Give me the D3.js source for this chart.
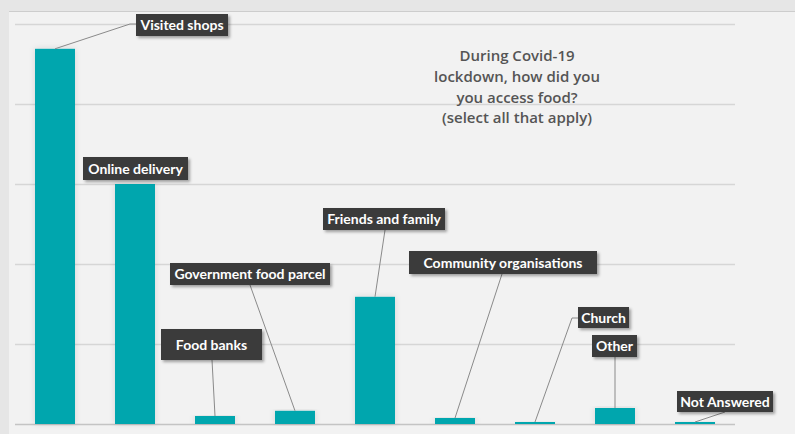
<!DOCTYPE html>
<html>
<head>
<meta charset="utf-8">
<script src="https://cdn.jsdelivr.net/npm/d3@7"></script>
<style>
  html, body { margin: 0; padding: 0; background: #e6e6e6; }
  svg { display: block; }
</style>
</head>
<body>
<svg id="chart" width="795" height="434"></svg>
<script>
// Survey responses (% of respondents, multiple answers allowed)
const categories = ["Visited shops", "Online delivery", "Food banks", "Government food parcel",
  "Friends and family", "Community organisations", "Church", "Other", "Not Answered"];
const values = [93.8, 60, 2, 3.3, 31.8, 1.5, 0.5, 4, 0.5];
const gridTicks = [0, 20, 40, 60, 80, 100];
const titleLines = ["During Covid-19", "lockdown, how did you", "you access food?", "(select all that apply)"];

// Callout boxes: left, top, and where the leader line leaves the box
const callouts = [
  { x: 136, y: 14, w: 92, h: 22, ax: 136, ay: 24, elbow: [130, 24] },
  { x: 83, y: 157, w: 105, h: 23, ax: null },
  { x: 161, y: 329, w: 101, h: 31, ax: 212, ay: 360 },
  { x: 170, y: 263, w: 160, h: 22, ax: 250, ay: 285 },
  { x: 323, y: 208, w: 122, h: 22, ax: 385, ay: 230 },
  { x: 409, y: 251, w: 188, h: 23, ax: 502, ay: 274 },
  { x: 578, y: 307, w: 51, h: 21, ax: 578, ay: 318, elbow: [572, 318] },
  { x: 592, y: 335, w: 45, h: 22, ax: 615, ay: 357 },
  { x: 677, y: 391, w: 96, h: 21, ax: 725, ay: 412 }
];

const svg = d3.select("#chart");
const W = 795, H = 434;

const defs = svg.append("defs");
const sh = defs.append("filter").attr("id", "boxShadow")
  .attr("x", "-20%").attr("y", "-30%").attr("width", "150%").attr("height", "170%");
sh.append("feDropShadow").attr("dx", 2).attr("dy", 2).attr("stdDeviation", 1.5)
  .attr("flood-color", "#000").attr("flood-opacity", 0.35);
const bs = defs.append("filter").attr("id", "barShadow")
  .attr("x", "-40%").attr("y", "-10%").attr("width", "180%").attr("height", "120%");
bs.append("feDropShadow").attr("dx", 0).attr("dy", 0).attr("stdDeviation", 3)
  .attr("flood-color", "#000").attr("flood-opacity", 0.12);

// Frame and panel
svg.append("rect").attr("width", W).attr("height", H).attr("fill", "#e6e6e6");
svg.append("rect").attr("x", 9).attr("y", 12).attr("width", W - 9).attr("height", H - 12).attr("fill", "#f2f2f2");
svg.append("line").attr("x1", 9).attr("x2", W).attr("y1", 11.5).attr("y2", 11.5)
  .attr("stroke", "#cdcdcd").attr("stroke-width", 1);

const x = d3.scaleBand().domain(categories).range([15, 735]).paddingInner(0.5).paddingOuter(0.25);
const y = d3.scaleLinear().domain([0, 100]).range([424, 24]);

// Horizontal gridlines
const yAxis = d3.axisLeft(y).tickValues(gridTicks).tickSize(-720).tickFormat("");
const gAxis = svg.append("g").attr("transform", "translate(15,0)").call(yAxis);
gAxis.select(".domain").remove();
gAxis.selectAll(".tick line")
  .attr("x1", 0).attr("x2", 720)
  .attr("stroke", d => d === 0 ? "#c4c4c4" : "#d6d6d6")
  .attr("stroke-width", 1.5);

// Bars
svg.append("g").selectAll("rect").data(categories).join("rect")
  .attr("x", d => x(d))
  .attr("width", x.bandwidth())
  .attr("y", (d, i) => y(values[i]))
  .attr("height", (d, i) => y(0) - y(values[i]))
  .attr("fill", "#00A6AE")
  .attr("filter", "url(#barShadow)");

// Title
const title = svg.append("text").attr("x", 517).attr("y", 61)
  .attr("text-anchor", "middle")
  .attr("font-family", "'Open Sans', Lato, sans-serif")
  .attr("font-weight", 600).attr("font-size", 15).attr("fill", "#555555");
titleLines.forEach((t, i) => title.append("tspan").attr("x", 517).attr("dy", i === 0 ? 0 : 20.8).text(t));

// Leader lines from each bar top to its callout
const leaders = svg.append("g").attr("fill", "none").attr("stroke", "#8a8a8a").attr("stroke-width", 1);
categories.forEach((c, i) => {
  const cb = callouts[i];
  if (cb.ax === null) return;
  const px = x(c) + x.bandwidth() / 2;
  const py = y(values[i]);
  const pts = [[px, py]];
  if (cb.elbow) pts.push(cb.elbow);
  pts.push([cb.ax, cb.ay]);
  leaders.append("path").attr("d", d3.line()(pts));
});

// Callout boxes with labels
const cg = svg.append("g").selectAll("g").data(categories).join("g")
  .attr("transform", (d, i) => `translate(${callouts[i].x},${callouts[i].y})`);
cg.append("rect")
  .attr("width", (d, i) => callouts[i].w)
  .attr("height", (d, i) => callouts[i].h)
  .attr("fill", "#3a3a3a")
  .attr("filter", "url(#boxShadow)");
cg.append("text")
  .attr("x", (d, i) => callouts[i].w / 2)
  .attr("y", (d, i) => callouts[i].h / 2 + 5)
  .attr("text-anchor", "middle")
  .attr("font-family", "Lato, 'Open Sans', sans-serif")
  .attr("font-weight", 700).attr("font-size", 14).attr("fill", "#ffffff")
  .text(d => d);
</script>
</body>
</html>
